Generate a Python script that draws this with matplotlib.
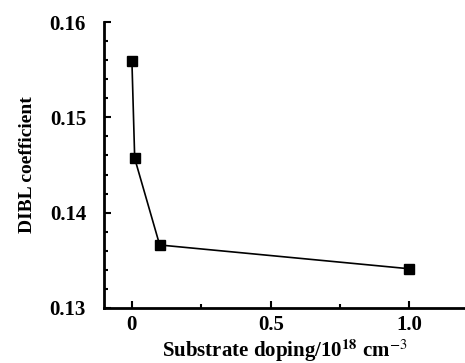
import numpy as np
import matplotlib
matplotlib.use('Agg')
import matplotlib.pyplot as plt
from matplotlib.ticker import MultipleLocator

doping = [0.0, 0.01, 0.1, 1.0]
dibl = [0.1559, 0.1457, 0.1366, 0.1341]

plt.rcParams['font.family'] = ['Liberation Serif', 'DejaVu Serif']
plt.rcParams['mathtext.fontset'] = 'stix'

fig = plt.figure(figsize=(4.65, 3.63), dpi=100)
ax = fig.add_axes([0.224, 0.152, 0.776, 0.787])

ax.plot(doping, dibl, color='black', linewidth=1.2, marker='s',
        markersize=6.5, markerfacecolor='black')

ax.set_xlim(-0.1, 1.2)
ax.set_ylim(0.13, 0.16)
ax.xaxis.set_minor_locator(MultipleLocator(0.25))
ax.yaxis.set_minor_locator(MultipleLocator(0.002))
ax.set_xticks([0, 0.5, 1.0])
ax.set_xticklabels(['0', '0.5', '1.0'])
ax.set_yticks([0.13, 0.14, 0.15, 0.16])
ax.set_yticklabels(['0.13', '0.14', '0.15', '0.16'])

for s in ['top', 'right']:
    ax.spines[s].set_visible(False)
for s in ['left', 'bottom']:
    ax.spines[s].set_linewidth(2)

ax.tick_params(which='major', direction='in', length=5, width=1.5, labelsize=15)
ax.tick_params(axis='x', which='major', pad=5)
ax.tick_params(axis='y', which='major', pad=13)
ax.tick_params(which='minor', direction='in', length=3, width=1.5)
for lab in ax.get_xticklabels() + ax.get_yticklabels():
    lab.set_fontweight('bold')

ax.set_xlabel('Substrate doping/10$^{\\mathbf{18}}$ cm$^{-3}$', fontsize=15, fontweight='bold', labelpad=2)
ax.set_ylabel('DIBL coefficient', fontsize=14, fontweight='bold', labelpad=10)

fig.savefig('out.png', dpi=100)
